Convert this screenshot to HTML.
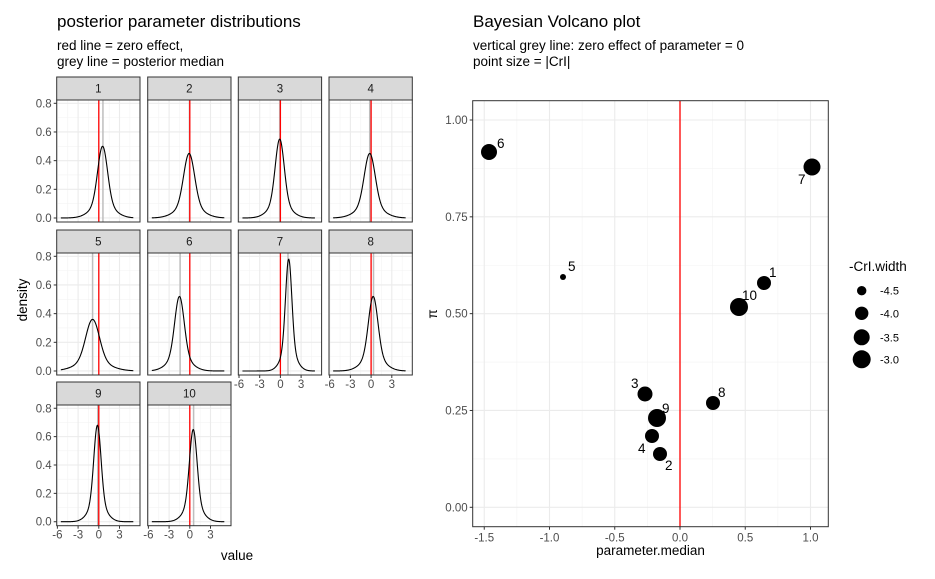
<!DOCTYPE html>
<html><head><meta charset="utf-8"><style>
body{margin:0;background:#fff}
svg{display:block;font-family:"Liberation Sans",sans-serif}
</style></head><body>
<svg id="s" width="935" height="579" viewBox="0 0 935 579" xmlns="http://www.w3.org/2000/svg">
<rect width="935" height="579" fill="#fff"/>
<text x="57" y="27" font-size="17" fill="#000">posterior parameter distributions</text>
<text x="57" y="50" font-size="13.5" fill="#000">red line = zero effect,</text>
<text x="57" y="66" font-size="13.5" fill="#000">grey line = posterior median</text>
<text x="473" y="27" font-size="17" fill="#000">Bayesian Volcano plot</text>
<text x="473" y="50" font-size="13.5" fill="#000">vertical grey line: zero effect of parameter = 0</text>
<text x="473" y="66" font-size="13.5" fill="#000">point size = |CrI|</text>
<text transform="translate(27,300) rotate(-90)" font-size="13.5" text-anchor="middle">density</text>
<text x="237" y="560" font-size="13.5" text-anchor="middle">value</text>
<g id="left"></g>
<g id="right"></g>
</svg>
<script>
var NS="http://www.w3.org/2000/svg";
function el(p,t,a,txt){var e=document.createElementNS(NS,t);for(var k in a)e.setAttribute(k,a[k]);if(txt!==undefined)e.textContent=txt;p.appendChild(e);return e;}
var L=document.getElementById('left');
var cols=[56.7,147.7,238.3,329];var W=83.3;
var rows=[[77,100,222],[230,253,375],[382,405,525.7]];
var params=[[0.55,0.5,0.6],[-0.1,0.45,-0.05],[-0.1,0.55,-0.1],[-0.2,0.45,-0.2],[-0.9,0.36,-0.9],[-1.5,0.52,-1.4],[1.2,0.78,1.1],[0.3,0.52,0.35],[-0.2,0.68,-0.15],[0.5,0.65,0.55]];
var xmin=-6.1,xmax=5.97;var FS=11.5;
for(var i=0;i<10;i++){
 var r=Math.floor(i/4),c=i%4;var x0=cols[c],R=rows[r];var ps=R[1],pb=R[2];
 var ymin=-0.028,ymax=0.823;
 function X(v){return x0+(v-xmin)/(xmax-xmin)*W;}
 function Y(v){return pb-(v-ymin)/(ymax-ymin)*(pb-ps);}
 el(L,'rect',{x:x0,y:ps,width:W,height:pb-ps,fill:'#fff'});
 [-4.5,-1.5,1.5,4.5].forEach(function(v){el(L,'line',{x1:X(v),x2:X(v),y1:ps,y2:pb,stroke:'#f3f3f3','stroke-width':0.6});});
 [0.1,0.3,0.5,0.7].forEach(function(v){el(L,'line',{x1:x0,x2:x0+W,y1:Y(v),y2:Y(v),stroke:'#f3f3f3','stroke-width':0.6});});
 [-6,-3,0,3].forEach(function(v){el(L,'line',{x1:X(v),x2:X(v),y1:ps,y2:pb,stroke:'#ebebeb','stroke-width':1.1});});
 [0,0.2,0.4,0.6,0.8].forEach(function(v){el(L,'line',{x1:x0,x2:x0+W,y1:Y(v),y2:Y(v),stroke:'#ebebeb','stroke-width':1.1});});
 var p=params[i];var mu=p[0],pk=p[1],sd=0.399/pk;var d='';
 for(var k=0;k<=200;k++){var v=-5.5+k*10.5/200;var z=(v-mu)/sd;var y=pk*Math.exp(-0.5*z*z*1.3)*0.8+pk*0.2*Math.exp(-0.5*z*z/4);d+=(k?'L':'M')+X(v).toFixed(2)+','+Y(y).toFixed(2);}
 el(L,'line',{x1:X(p[2]),x2:X(p[2]),y1:ps,y2:pb,stroke:'#bebebe','stroke-width':1.5});
 el(L,'line',{x1:X(0),x2:X(0),y1:ps,y2:pb,stroke:'#ff0000','stroke-width':1.3});
 el(L,'path',{d:d,fill:'none',stroke:'#000','stroke-width':1.1});
 el(L,'rect',{x:x0,y:ps,width:W,height:pb-ps,fill:'none',stroke:'#333','stroke-width':1});
 el(L,'rect',{x:x0,y:R[0],width:W,height:ps-R[0],fill:'#d9d9d9',stroke:'#333','stroke-width':1});
 el(L,'text',{x:x0+W/2,y:(R[0]+ps)/2+4,'font-size':11.5,'text-anchor':'middle',fill:'#1a1a1a'},String(i+1));
 if(c==0){[0,0.2,0.4,0.6,0.8].forEach(function(v){el(L,'line',{x1:x0-3,x2:x0,y1:Y(v),y2:Y(v),stroke:'#333'});el(L,'text',{x:x0-5,y:Y(v)+4,'font-size':FS,'text-anchor':'end',fill:'#4d4d4d'},v.toFixed(1));});}
 if(i>=6){[-6,-3,0,3].forEach(function(v){el(L,'line',{x1:X(v),x2:X(v),y1:pb,y2:pb+3,stroke:'#333'});el(L,'text',{x:X(v),y:pb+13,'font-size':FS,'text-anchor':'middle',fill:'#4d4d4d'},String(v));});}
}
var G=document.getElementById('right');
var l=472.7,t=100.7,rr=828.3,b=526.7;
function PX(v){return 680+v*130.5;}function PY(v){return 507.3-v*387.3;}
el(G,'rect',{x:l,y:t,width:rr-l,height:b-t,fill:'#fff'});
[-1.25,-0.75,-0.25,0.25,0.75].forEach(function(v){el(G,'line',{x1:PX(v),x2:PX(v),y1:t,y2:b,stroke:'#f3f3f3','stroke-width':0.6});});
[0.125,0.375,0.625,0.875].forEach(function(v){el(G,'line',{x1:l,x2:rr,y1:PY(v),y2:PY(v),stroke:'#f3f3f3','stroke-width':0.6});});
[-1.5,-1,-0.5,0,0.5,1].forEach(function(v){el(G,'line',{x1:PX(v),x2:PX(v),y1:t,y2:b,stroke:'#ebebeb','stroke-width':1.1});el(G,'line',{x1:PX(v),x2:PX(v),y1:b,y2:b+3,stroke:'#333'});el(G,'text',{x:PX(v),y:b+15,'font-size':FS,'text-anchor':'middle',fill:'#4d4d4d'},v.toFixed(1));});
[0,0.25,0.5,0.75,1].forEach(function(v){el(G,'line',{x1:l,x2:rr,y1:PY(v),y2:PY(v),stroke:'#ebebeb','stroke-width':1.1});el(G,'line',{x1:l-3,x2:l,y1:PY(v),y2:PY(v),stroke:'#333'});el(G,'text',{x:l-5,y:PY(v)+4,'font-size':FS,'text-anchor':'end',fill:'#4d4d4d'},v.toFixed(2));});
el(G,'line',{x1:680,x2:680,y1:t,y2:b,stroke:'#ff0000','stroke-width':1.3});
var pts=[[489,152,8,'6',497,148],[812,167,8.5,'7',798,184],[563,277,3,'5',568,271],[764,283,7,'1',769,277],[739,307,9,'10',742,300],[645,394,7.5,'3',631,388],[657,418,9,'9',662,413],[652,436,7,'4',638,453],[660,454,7,'2',665,470],[713,403,7,'8',718,397]];
pts.forEach(function(p){el(G,'circle',{cx:p[0],cy:p[1],r:p[2],fill:'#000'});el(G,'text',{x:p[4],y:p[5],'font-size':13.5,fill:'#000'},p[3]);});
el(G,'rect',{x:l,y:t,width:rr-l,height:b-t,fill:'none',stroke:'#333','stroke-width':1});
el(G,'text',{x:(l+rr)/2,y:555,'font-size':13.5,'text-anchor':'middle'},'parameter.median');
el(G,'text',{transform:'translate(437,314) rotate(-90)','font-size':13.5,'text-anchor':'middle'},'π');
el(G,'text',{x:849,y:271,'font-size':13.5},'-CrI.width');
[[290.7,4.7,'-4.5'],[313.3,6.7,'-4.0'],[337.3,8,'-3.5'],[359.3,9,'-3.0']].forEach(function(q){el(G,'circle',{cx:861.7,cy:q[0],r:q[1],fill:'#000'});el(G,'text',{x:880,y:q[0]+4,'font-size':11},q[2]);});
</script>
</body></html>
